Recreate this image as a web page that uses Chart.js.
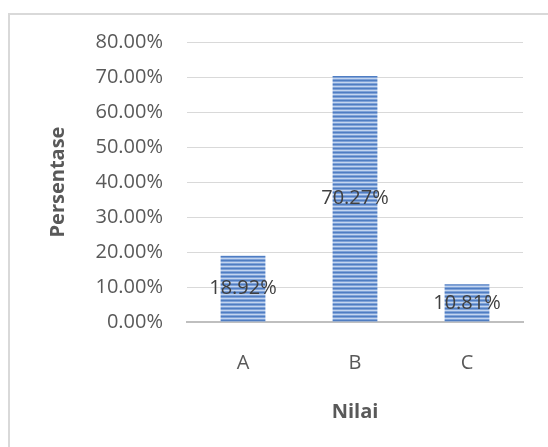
<!DOCTYPE html>
<html>
<head>
<meta charset="utf-8">
<script src="https://cdn.jsdelivr.net/npm/chart.js@4/dist/chart.umd.min.js"></script>
<style>
    html, body { margin: 0; padding: 0; background: #fff; }
    #wrap { position: relative; width: 548px; height: 447px; overflow: hidden; }
    #frame { position: absolute; left: 8px; top: 13px; width: 600px; height: 500px; border: 2px solid #d9d9d9; box-sizing: border-box; }
    #myChart { position: absolute; left: 0; top: 0; }
</style>
</head>
<body>
<div id="wrap">
    <div id="frame"></div>
    <canvas id="myChart" width="548" height="447"></canvas>
</div>
<script>
(function(){

    // data
    var categories = ['A', 'B', 'C'];
    var persentase = [18.92, 70.27, 10.81];
    var yTicks = [0, 10, 20, 30, 40, 50, 60, 70, 80];

    var FONT = "'Open Sans', sans-serif";

    // horizontal stripe fill like the original bars
    function makeStripes(ctx) {
        var c = document.createElement('canvas');
        c.width = 4;
        c.height = 4;
        var g = c.getContext('2d');
        var rows = ['#4f7dc2', '#7fa2d8', '#c3d5ef', '#7fa2d8'];
        for (var i = 0; i < rows.length; i++) {
            g.fillStyle = rows[i];
            g.fillRect(0, i, 4, 1);
        }
        return ctx.createPattern(c, 'repeat');
    }

    var valueLabels = {
        id: 'valueLabels',
        afterDatasetsDraw: function (chart) {
            var ctx = chart.ctx;
            ctx.save();
            ctx.font = '20px ' + FONT;
            ctx.fillStyle = '#404040';
            ctx.textAlign = 'center';
            ctx.textBaseline = 'middle';
            chart.getDatasetMeta(0).data.forEach(function (bar, i) {
                var v = chart.data.datasets[0].data[i];
                ctx.fillText(v.toFixed(2) + '%', bar.x, (bar.y + bar.base) / 2);
            });
            ctx.restore();
        }
    };

    var ctx = document.getElementById('myChart').getContext('2d');

    var chart = new Chart(ctx, {
        type: 'bar',
        data: {
            labels: categories,
            datasets: [{
                data: persentase,
                backgroundColor: makeStripes(ctx),
                borderWidth: 0,
                barPercentage: 0.4,
                categoryPercentage: 1
            }]
        },
        options: {
            responsive: false,
            animation: false,
            layout: { padding: { left: 0, right: 25, top: 42, bottom: 0 } },
            plugins: {
                legend: { display: false },
                tooltip: { enabled: false }
            },
            scales: {
                x: {
                    grid: { display: false, drawTicks: false },
                    border: { display: true, color: '#bfbfbf', width: 2 },
                    ticks: { color: '#595959', font: { family: FONT, size: 20 }, padding: 29 },
                    title: {
                        display: true,
                        text: 'Nilai',
                        color: '#595959',
                        font: { family: FONT, size: 20, weight: 'bold' },
                        padding: { top: 0, bottom: 23 }
                    },
                    afterFit: function (scale) { scale.height = 125; }
                },
                y: {
                    min: 0,
                    max: 80,
                    afterBuildTicks: function (scale) {
                        scale.ticks = yTicks.map(function (v) { return { value: v }; });
                    },
                    grid: { color: '#d9d9d9', lineWidth: 1, drawTicks: false },
                    border: { display: false },
                    ticks: {
                        color: '#595959',
                        font: { family: FONT, size: 20 },
                        padding: 24,
                        callback: function (v) { return v.toFixed(2) + '%'; }
                    },
                    title: {
                        display: true,
                        text: 'Persentase',
                        color: '#595959',
                        font: { family: FONT, size: 20, weight: 'bold' },
                        padding: { top: 46, bottom: 0 }
                    },
                    afterFit: function (scale) { scale.width = 187; }
                }
            }
        },
        plugins: [valueLabels]
    });

})();
</script>
</body>
</html>
